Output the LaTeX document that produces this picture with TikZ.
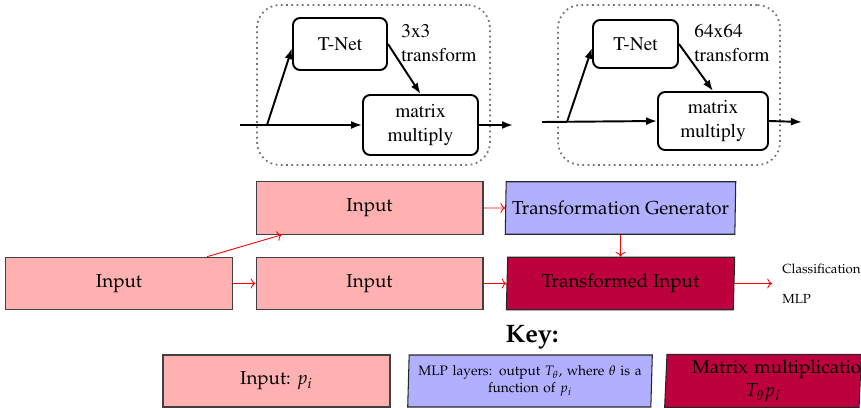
\documentclass[tikz,border=0pt]{standalone}
\usepackage[T1]{fontenc}
\usepackage{mathpazo}
\usetikzlibrary{arrows.meta,shapes.geometric,positioning,calc}
\definecolor{inpink}{RGB}{255,176,176}
\definecolor{genblue}{RGB}{176,176,255}
\definecolor{mulred}{RGB}{190,0,62}
\newcommand\topfont{\fontfamily{ptm}\fontsize{11}{13.5}\selectfont}
\newcommand\boxfont{\fontsize{10.7}{12.8}\selectfont}
\tikzset{
  inbox/.style  = { draw=black!75, line width=0.6pt, fill=inpink, minimum width=4.54cm, minimum height=1.05cm, font=\boxfont },
  genbox/.style = { trapezium, trapezium left angle=88, trapezium right angle=92, trapezium stretches=true,
    draw=black!85, line width=0.6pt, fill=genblue, minimum width=4.6cm, minimum height=1.05cm, font=\boxfont },
  mulbox/.style = { genbox, fill=mulred },
  redarr/.style = { ->, red, line width=0.5pt },
  tnbox/.style  = { draw, line width=1.1pt, rounded corners=4pt, font=\topfont, inner sep=1pt },
  dotbox/.style = { draw=black!55, dotted, line width=1pt, rounded corners=13pt },
  blk/.style    = { -{Latex[length=2.2mm,width=1.6mm]}, line width=1.1pt },
  toplab/.style = { anchor=north west, align=left, inner sep=0pt, font=\topfont }
}
\begin{document}
\begin{tikzpicture}[x=0.02cm,y=-0.02cm]
  \clip (0,0) rectangle (861,408);
  % first transform block (3x3)
  \node[dotbox, minimum width=4.66cm, minimum height=3.2cm] (pan1) at (373.5,85) {};
  \node[tnbox, minimum width=1.88cm, minimum height=1.04cm] (tnet1) at (340,44) {T-Net};
  \node[tnbox, minimum width=2.3cm, minimum height=1.2cm, align=center] (mmul1) at (420.5,125) {matrix\\multiply};
  \node[toplab] (lab1) at (401,24) {3x3\\transform};
  \coordinate (in1) at (240,125);
  \coordinate (br1) at (267,125);
  \coordinate (out1) at (513,125);
  \draw[blk] (in1) -- (mmul1.west);
  \draw[blk] (br1) -- (tnet1.185);
  \draw[blk] (tnet1.east) -- (mmul1.north);
  \draw[blk] (mmul1.east) -- (out1);
  % second transform block (64x64)
  \node[dotbox, minimum width=4.44cm, minimum height=3.2cm] (pan2) at (669,85) {};
  \node[tnbox, minimum width=1.7cm, minimum height=0.96cm] (tnet2) at (635.5,44) {T-Net};
  \node[tnbox, minimum width=2.2cm, minimum height=1.16cm, align=center] (mmul2) at (713,121) {matrix\\multiply};
  \node[toplab] (lab2) at (694,24) {64x64\\transform};
  \coordinate (in2) at (542,122);
  \coordinate (br2) at (567,122);
  \coordinate (out2) at (802,122);
  \draw[blk] (in2) -- (mmul2.west);
  \draw[blk] (br2) -- (tnet2.185);
  \draw[blk] (tnet2.east) -- (mmul2.north);
  \draw[blk] (mmul2.east) -- (out2);
  % the diagram
  \node[inbox] (inp0) at (119,283.5) {Input};
  \node[inbox] (inp1) at (369.5,208) {Input};
  \node[inbox] (inp2) at (369.5,283.5) {Input};
  \node[genbox] (tgen) at (620.5,208) {Transformation Generator};
  \node[mulbox] (tin) at (620.5,283.5) {Transformed Input};
  \coordinate (clsin) at (772,283.5);
  \node[anchor=west, align=left, font=\fontsize{7.5}{8.5}\selectfont, inner sep=0pt] (cls) at (782,283.5) {Classification\\[8.5pt]MLP};
  \draw[redarr] ($(inp0.north west)!0.886!(inp0.north east)$) -- ($(inp1.south west)!0.115!(inp1.south east)$);
  \draw[redarr] (inp0) -- (inp2);
  \draw[redarr] (inp1) -- (tgen);
  \draw[redarr] (inp2) -- (tin);
  \draw[redarr] (tgen) -- (tin);
  \draw[redarr] (tin) -- (clsin);
  % key
  \node[font=\Large\bfseries] (key) at (532,337) {Key:};
  \node[inbox, minimum height=1.04cm] (kin) at (276.5,381) {Input: $p_i$};
  \node[genbox, font=\fontsize{7.8}{9.4}\selectfont, text width=4.6cm, align=center, minimum width=4.68cm, minimum height=1.04cm] (kmlp) at (530,381)
    {MLP layers: output $T_\theta$, where $\theta$ is a\\function of $p_i$};
  \node[mulbox, text width=2.84cm, align=center, minimum width=3.96cm, minimum height=1.04cm] (kmat) at (763,381)
    {\mbox{Matrix multiplication}\\$T_\theta p_i$};
\end{tikzpicture}
\end{document}
